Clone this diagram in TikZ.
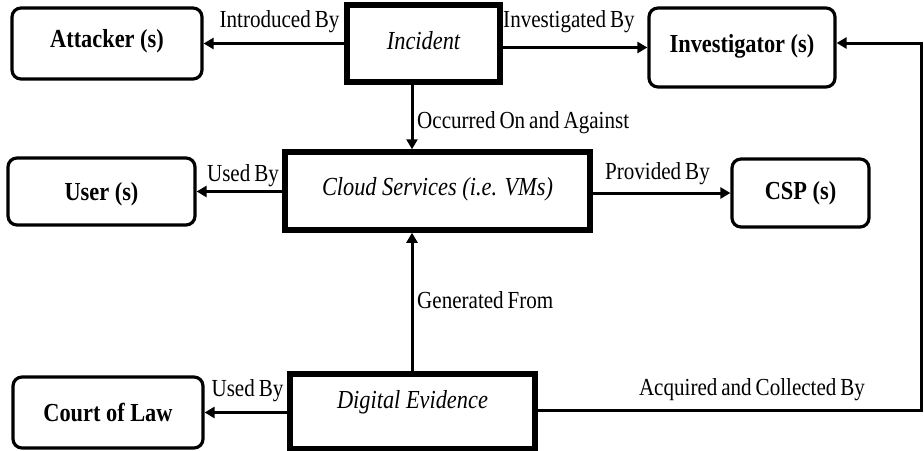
\documentclass[tikz,border=0pt]{standalone}
\usepackage{fontspec}
\setmainfont{Liberation Serif}[FakeStretch=0.86]
\newfontfamily\lblfont{Liberation Serif}[FakeStretch=0.86,WordSpace=0.75]
\usetikzlibrary{arrows.meta}
\begin{document}
\begin{tikzpicture}[x=1pt,y=-1pt,
  rbox/.style={draw,line width=3.2pt,rounded corners=9pt,inner sep=0pt,text height=17pt,text depth=0pt,font=\fontsize{26}{28}\selectfont\bfseries},
  tbox/.style={draw,line width=5.5pt,inner sep=0pt,text height=17pt,text depth=0pt,font=\fontsize{26}{28}\selectfont\itshape},
  arr/.style={line width=3pt,-{Triangle[length=10pt,width=11pt]}},
  lbl/.style={inner sep=0pt,anchor=base,font=\lblfont\fontsize{24.5}{27}\selectfont}]
\useasboundingbox (0,0) rectangle (924,450);
% boxes
\node[rbox,minimum width=190pt,minimum height=71pt] (att) at (107,43.5) {\raisebox{4.5pt}{Attacker (s)}};
\node[tbox,minimum width=153pt,minimum height=77pt] (inc) at (423.5,43.5) {\raisebox{3pt}{Incident}};
\node[rbox,minimum width=186pt,minimum height=79pt] (inv) at (742,47.5) {\raisebox{3.5pt}{Investigator (s)}};
\node[rbox,minimum width=187pt,minimum height=67pt] (usr) at (101.5,191.5) {User (s)};
\node[tbox,minimum width=305pt,minimum height=78pt] (cld) at (437.5,191) {\raisebox{4pt}{Cloud Services (i.e. VMs)}};
\node[rbox,minimum width=137pt,minimum height=68pt] (csp) at (800.5,193) {\raisebox{2pt}{CSP (s)}};
\node[rbox,minimum width=190pt,minimum height=71pt] (crt) at (108,412.5) {Court of Law};
\node[tbox,minimum width=245pt,minimum height=75pt] (dev) at (412.5,411.5) {\raisebox{12pt}{Digital Evidence}};
% helper coordinates
\coordinate (vx) at (412,0);
\coordinate (c1) at (921,410);
\coordinate (c2) at (921,43);
% connectors
\draw[arr] (inc.west |- att.east) -- (att.east);
\draw[arr] (inc.east |- inv.west) -- (inv.west);
\draw[arr] (inc.south -| vx) -- (cld.north -| vx);
\draw[arr] (cld.west |- usr.east) -- (usr.east);
\draw[arr] (cld.east |- csp.west) -- (csp.west);
\draw[arr] (dev.north -| vx) -- (cld.south -| vx);
\draw[arr] (dev.west |- crt.east) -- (crt.east);
\draw[arr] (dev.east |- c1) -- (c1) -- (c2) -- (c2 -| inv.east);
% labels
\node[lbl] (l1) at (279.5,27) {Introduced By};
\node[lbl] (l2) at (569,27.5) {Investigated By};
\node[lbl,anchor=base west] (l3) at (417,128) {Occurred On and Against};
\node[lbl] (l4) at (243,181) {Used By};
\node[lbl] (l5) at (657.5,179) {Provided By};
\node[lbl,anchor=base west] (l6) at (417,308) {Generated From};
\node[lbl] (l7) at (247.5,396.5) {Used By};
\node[lbl] (l8) at (752,395) {Acquired and Collected By};
\end{tikzpicture}
\end{document}
